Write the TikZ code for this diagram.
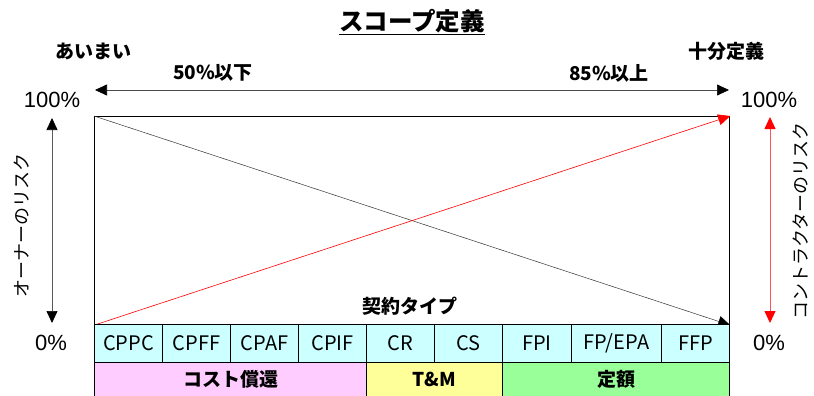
\documentclass[tikz,border=0pt]{standalone}
\usepackage{fontspec}
\setmainfont{Noto Sans CJK JP}
\newfontfamily\arialf{Liberation Sans}
\usetikzlibrary{arrows.meta}
\definecolor{cellc}{HTML}{CCFFFF}
\definecolor{pinkc}{HTML}{FFCCFF}
\definecolor{yelc}{HTML}{FFFF99}
\definecolor{grnc}{HTML}{99FF99}
\definecolor{redl}{HTML}{FF5555}
\tikzset{
  btip/.tip={Triangle[length=12pt,width=11pt,black]},
  rtip/.tip={Triangle[length=12pt,width=11pt,red]}
}
\begin{document}
\begin{tikzpicture}[x=1pt,y=-1pt,
  cell/.style={draw=black, line width=1.1pt, fill=cellc, minimum height=38pt, inner sep=0pt, anchor=north west, font=\fontsize{20}{22}\selectfont},
  cat/.style={draw=black, line width=1.1pt, minimum height=34pt, inner sep=0pt, anchor=north west, font=\bfseries\fontsize{19}{22}\selectfont},
  lbl/.style={inner sep=0pt, font=\bfseries\fontsize{19}{22}\selectfont},
  pct/.style={inner sep=0pt, font=\arialf\fontsize{22}{24}\selectfont},
  vlbl/.style={inner sep=0pt, rotate=90, font=\fontsize{18}{20}\selectfont}
]
\useasboundingbox (0,0) rectangle (814,396);
\fill[white] (0,0) rectangle (814,396);

% title
\node[inner sep=0pt, font=\bfseries\fontsize{24.5}{27}\selectfont] (title) at (412,22) {\underline{スコープ定義}};

\node[lbl] (vague) at (93,51) {あいまい};
\node[lbl] (full) at (726,51) {十分定義};
\node[lbl] (le50) at (213,73) {50\%以下};
\node[lbl] (ge85) at (609,73) {85\%以上};

\coordinate (tl) at (95,90);
\coordinate (tr) at (729,90);
\draw[line width=0.7pt, black!70, btip-btip] (tl) -- (tr);

\node[pct] (l100) at (52,100) {100\%};
\node[pct] (r100) at (769,100) {100\%};
\node[pct] (l0) at (51,343) {0\%};
\node[pct] (r0) at (769,343) {0\%};

% main box
\node[draw, line width=1.2pt, minimum width=635pt, minimum height=208pt, anchor=north west, inner sep=0pt] (box) at (94,116) {};
\draw[line width=0.5pt, black!80, -btip] (box.north west) -- (box.south east);
\draw[line width=0.6pt, red, -rtip] (box.south west) -- (box.north east);

\node[lbl] (ctype) at (410,306) {契約タイプ};

% left vertical arrow
\coordinate (la) at (52,118);
\coordinate (lb) at (52,323);
\draw[line width=0.7pt, black!65, btip-btip] (la) -- (lb);
\node[vlbl] (owner) at (22,225) {オーナーのリスク};

% right vertical arrow
\coordinate (ra) at (770,117);
\coordinate (rb) at (770,323);
\draw[line width=0.8pt, redl, rtip-rtip] (ra) -- (rb);
\node[vlbl] (contr) at (801,221) {コントラクターのリスク};

% cells
\node[cell, minimum width=68pt] (c1) at (94,324) {CPPC};
\node[cell, minimum width=68pt] (c2) at (162,324) {CPFF};
\node[cell, minimum width=68pt] (c3) at (230,324) {CPAF};
\node[cell, minimum width=68pt] (c4) at (298,324) {CPIF};
\node[cell, minimum width=68pt] (c5) at (366,324) {CR};
\node[cell, minimum width=68pt] (c6) at (434,324) {CS};
\node[cell, minimum width=69pt] (c7) at (502,324) {FPI};
\node[cell, minimum width=90pt] (c8) at (571,324) {FP/EPA};
\node[cell, minimum width=68pt] (c9) at (661,324) {FFP};

% categories
\node[cat, fill=pinkc, minimum width=272pt] (k1) at (94,362) {コスト償還};
\node[cat, fill=yelc, minimum width=136pt] (k2) at (366,362) {T\&M};
\node[cat, fill=grnc, minimum width=227pt] (k3) at (502,362) {定額};
\end{tikzpicture}
\end{document}
